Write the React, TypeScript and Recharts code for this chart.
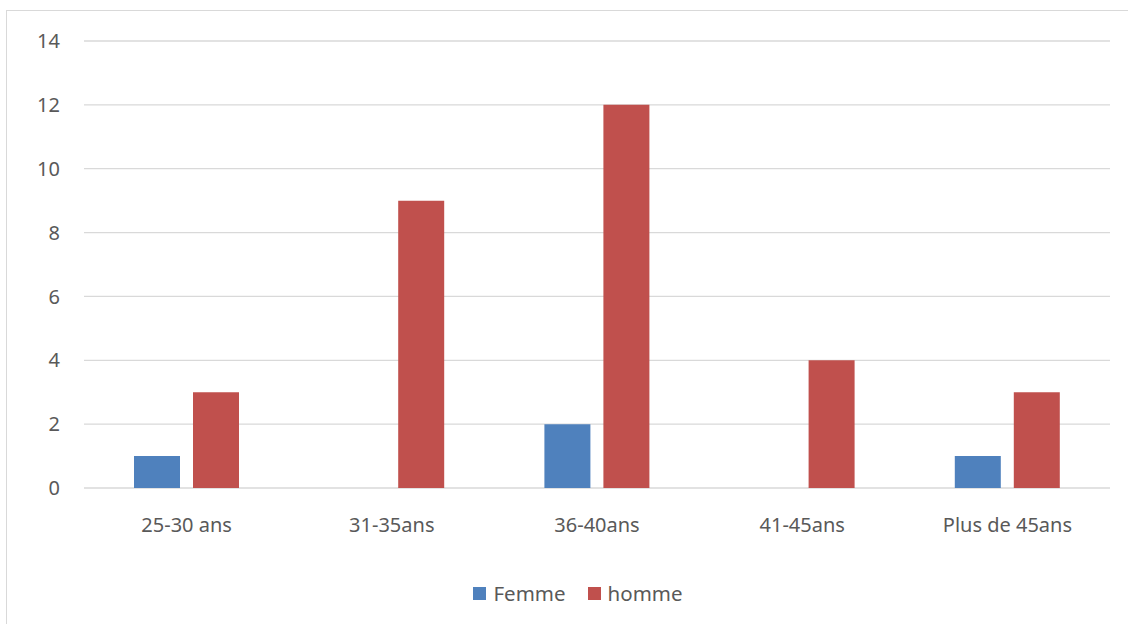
import React from "react";
import { BarChart, Bar, XAxis, YAxis, CartesianGrid, Legend } from "recharts";

const categories = ["25-30 ans", "31-35ans", "36-40ans", "41-45ans", "Plus de 45ans"];
const femmeValues = [1, 0, 2, 0, 1];
const hommeValues = [3, 9, 12, 4, 3];
const yTicks = [0, 2, 4, 6, 8, 10, 12, 14];

const seriesInfo = [
  { key: "Femme", color: "#4F81BD" },
  { key: "homme", color: "#C0504D" },
];

const data = categories.map((name, i) => ({
  name,
  Femme: femmeValues[i],
  homme: hommeValues[i],
}));

const FONT = "'Noto Sans', 'Open Sans', sans-serif";
const TEXT_COLOR = "#595959";

const LegendContent = () => (
  <div
    style={{
      display: "flex",
      justifyContent: "center",
      alignItems: "center",
      paddingLeft: 28,
      fontFamily: FONT,
      fontSize: 20.5,
      color: TEXT_COLOR,
    }}
  >
    {seriesInfo.map((s, i) => (
      <div
        key={s.key}
        style={{ display: "flex", alignItems: "center", marginLeft: i === 0 ? 0 : 22 }}
      >
        <span
          style={{ width: 13, height: 13, background: s.color, display: "inline-block", marginRight: 7 }}
        />
        <span style={{ lineHeight: "26px" }}>{s.key}</span>
      </div>
    ))}
  </div>
);

export default function App() {
  return (
    <div
      style={{
        position: "absolute",
        left: 0,
        top: 0,
        width: 1128,
        height: 624,
        overflow: "hidden",
        background: "#fff",
      }}
    >
      <div
        style={{
          position: "absolute",
          left: 6,
          top: 10,
          width: 1300,
          height: 800,
          border: "1.5px solid #d9d9d9",
          boxSizing: "border-box",
        }}
      />
      <div style={{ position: "absolute", left: 0, top: 0 }}>
        <BarChart
          width={1128}
          height={624}
          data={data}
          margin={{ top: 41, right: 18, bottom: 106, left: 0 }}
          barSize={46}
          barGap={13}
        >
          <CartesianGrid vertical={false} stroke="#d9d9d9" strokeWidth={1.3} />
          <XAxis
            dataKey="name"
            height={30}
            axisLine={false}
            tickLine={false}
            tickMargin={24}
            interval={0}
            tick={{ fill: TEXT_COLOR, fontSize: 20, fontFamily: FONT }}
          />
          <YAxis
            width={84}
            domain={[0, 14]}
            ticks={yTicks}
            axisLine={false}
            tickLine={false}
            tickMargin={18}
            tick={{ fill: TEXT_COLOR, fontSize: 20, fontFamily: FONT }}
          />
          <Legend
            verticalAlign="middle"
            align="center"
            content={<LegendContent />}
            wrapperStyle={{ top: 580, left: 0, width: 1128 }}
          />
          {seriesInfo.map((s) => (
            <Bar key={s.key} dataKey={s.key} fill={s.color} isAnimationActive={false} />
          ))}
        </BarChart>
      </div>
    </div>
  );
}
